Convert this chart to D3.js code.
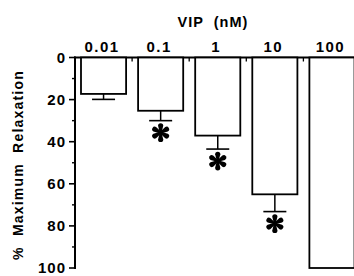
<!DOCTYPE html>
<html><head><meta charset="utf-8">
<script src="https://cdn.jsdelivr.net/npm/d3@7"></script>
<style>
html,body{margin:0;padding:0;background:#fff;}
svg{display:block;}
text{font-family:"Liberation Sans",Arial,sans-serif;font-weight:bold;fill:#000;}
</style></head>
<body>
<svg id="c" width="354" height="276"></svg>
<script>
const categories = ["0.01","0.1","1","10","100"];
const values = [17.3, 25.3, 37.1, 65.0, 100];
const errors = [2.6, 4.7, 6.4, 8.2, 0];
const significant = [false, true, true, true, false];
const yTicks = [0,20,40,60,80,100];
const yMinorTicks = [10,30,50,70,90];

const svg = d3.select("#c");
const x = d3.scaleBand().domain(categories).range([75, 360.5]).paddingInner(0.21).paddingOuter(0.105);
const y = d3.scaleLinear().domain([0,100]).range([57.5, 268]);

// top axis line
svg.append("line").attr("x1",74).attr("x2",354).attr("y1",y(0)).attr("y2",y(0))
  .attr("stroke","#000").attr("stroke-width",2);
// band boundary ticks
const step = x.step();
categories.slice(1).forEach(c=>{
  const bx = x(c) - x.paddingInner()*step/2;
  svg.append("line").attr("x1",bx).attr("x2",bx).attr("y1",y(0)).attr("y2",y(0)+4)
    .attr("stroke","#000").attr("stroke-width",1.3);
});
// y axis
svg.append("line").attr("x1",75).attr("x2",75).attr("y1",y(0)-1).attr("y2",y(100)+1)
  .attr("stroke","#000").attr("stroke-width",2);
yTicks.forEach(t=>{
  svg.append("line").attr("x1",69).attr("x2",75).attr("y1",y(t)).attr("y2",y(t))
    .attr("stroke","#000").attr("stroke-width",1.6);
  svg.append("text").attr("x",66).attr("y",y(t)).attr("dy","0.36em").attr("text-anchor","end")
    .attr("font-size",15).attr("letter-spacing",1).text(t);
});
yMinorTicks.forEach(t=>{
  svg.append("line").attr("x1",72).attr("x2",75).attr("y1",y(t)).attr("y2",y(t))
    .attr("stroke","#000").attr("stroke-width",1.4);
});

// bars
const g = svg.append("g");
categories.forEach((c,i)=>{
  const bx = x(c), bw = x.bandwidth();
  g.append("rect").attr("x",bx).attr("y",y(0)).attr("width",bw).attr("height",y(values[i])-y(0))
    .attr("fill","#fff").attr("stroke","#000").attr("stroke-width",1.8);
  const cx = bx + bw/2;
  if (errors[i] > 0) {
    const ey = y(values[i]+errors[i]);
    g.append("line").attr("x1",cx).attr("x2",cx).attr("y1",y(values[i])).attr("y2",ey)
      .attr("stroke","#000").attr("stroke-width",1.5);
    g.append("line").attr("x1",cx-11.5).attr("x2",cx+11.5).attr("y1",ey).attr("y2",ey)
      .attr("stroke","#000").attr("stroke-width",1.6);
    if (significant[i]) {
      const ay = ey + 12;
      const a = g.append("g").attr("transform",`translate(${cx},${ay})`);
      for (let k=0;k<6;k++){
        a.append("path").attr("transform",`rotate(${k*60})`)
          .attr("d","M-0.9,0 L-2.6,-6.8 A2.6,2.6 0 1 1 2.6,-6.8 L0.9,0 Z").attr("fill","#000");
      }
      a.append("circle").attr("r",2).attr("fill","#000");
    }
  }
  svg.append("text").attr("x",cx-1.5).attr("y",52).attr("text-anchor","middle")
    .attr("font-size",15).attr("letter-spacing",1.5).text(c);
});

svg.append("text").attr("x",213).attr("y",27).attr("text-anchor","middle")
  .attr("font-size",14.5).attr("letter-spacing",1).attr("xml:space","preserve").style("white-space","pre").text("VIP  (nM)");
svg.append("text").attr("transform","translate(23,165) rotate(-90)").attr("text-anchor","middle")
  .attr("font-size",14).attr("letter-spacing",1.2).style("white-space","pre").text("%  Maximum  Relaxation");
</script>
</body></html>
